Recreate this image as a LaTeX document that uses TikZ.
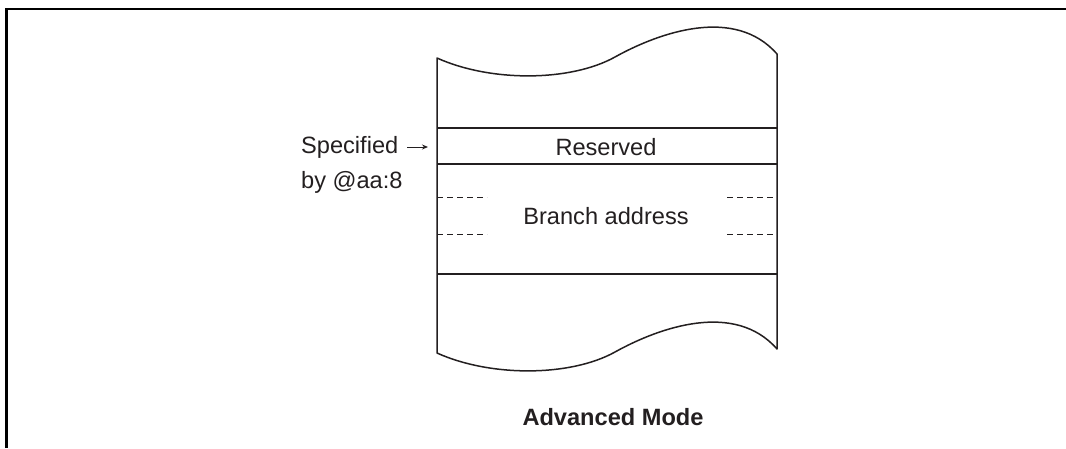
\documentclass[tikz,border=0pt]{standalone}
\usepackage{fontspec}
\setmainfont{Liberation Sans}
\usetikzlibrary{arrows.meta}
\definecolor{ink}{HTML}{231F20}
\begin{document}
\begin{tikzpicture}[x=1pt,y=-1pt,
  frame/.style={line width=2.6pt,black},
  boxline/.style={line width=1.5pt,ink},
  dashline/.style={line width=0.8pt,ink,dash pattern=on 6pt off 4pt},
  lbl/.style={font=\fontsize{23.6}{27}\selectfont,text=ink,inner sep=0pt},
  title/.style={font=\fontsize{23.6}{27}\selectfont\bfseries,text=ink,inner sep=0pt}]
\useasboundingbox (0,0) rectangle (1066,448);
% frame
\draw[frame] (6.5,448) -- (6.5,9) -- (1066,9);
% memory box
\coordinate (tl) at (437,58);
\coordinate (tr) at (777,54);
\coordinate (bl) at (437,353);
\coordinate (br) at (777,349);
\draw[boxline,line join=round] (tl) .. controls (490,82) and (570,82) .. (615,57) .. controls (660,32) and (735,6) .. (tr)
  -- (br) .. controls (735,301) and (660,327) .. (615,352) .. controls (570,377) and (490,377) .. (bl) -- cycle;
\draw[boxline] (437,128) -- (777,128);
\draw[boxline] (437,164) -- (777,164);
\draw[boxline] (437,274) -- (777,274);
\draw[dashline] (437,197) -- (487,197);
\draw[dashline] (437,234) -- (487,234);
\draw[dashline] (727,197) -- (777,197);
\draw[dashline] (727,234) -- (777,234);
% labels
\node[lbl] (res) at (606,147) {Reserved};
\node[lbl] (badr) at (606,216) {Branch address};
\node[lbl,anchor=west] (spec) at (301,147) {Specified};
\node[lbl,anchor=west] (by) at (301,182) {by @aa:8};
\coordinate (arrE) at (428,147);
\draw[line width=1pt,ink,-{Stealth[length=6pt,width=5pt]}] ([xshift=9pt]spec.east) -- (arrE);
\node[title] (mode) at (613,417) {Advanced Mode};
\end{tikzpicture}
\end{document}
